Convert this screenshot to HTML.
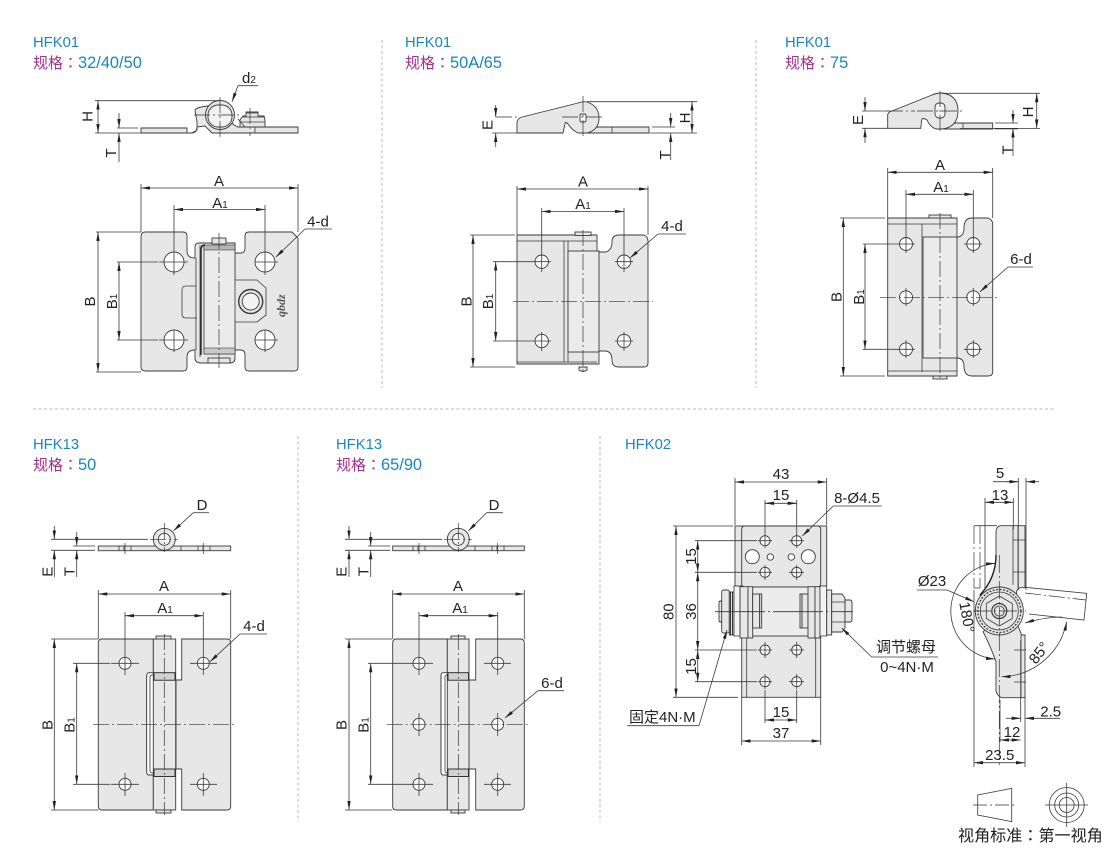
<!DOCTYPE html>
<html><head><meta charset="utf-8"><style>
html,body{margin:0;padding:0;background:#fff}
svg{display:block}
text{font-family:"Liberation Sans","Noto Sans CJK SC",sans-serif;fill:#222;font-size:15px;stroke:none}
.m{text-anchor:middle}
.hb{fill:#1787c0;font-size:14.8px}
.hv{fill:#1787c0;font-size:16.4px}
.hm{fill:#a3308f;font-size:15px}
.cl{font-family:"Noto Sans CJK TC",sans-serif}
.o{fill:#e7e7e8;stroke:#3a3a3a;stroke-width:.9}
.w{fill:#fff;stroke:#3a3a3a;stroke-width:.9}
.l{fill:none;stroke:#3a3a3a;stroke-width:.8}
.k{fill:none;stroke:#222;stroke-width:1.4}
.d{fill:none;stroke:#3a3a3a;stroke-width:.8}
.b{marker-start:url(#a);marker-end:url(#a)}
.e{marker-end:url(#a)}
.c{fill:none;stroke:#333;stroke-width:.7;stroke-dasharray:16 3 2 3}
.s{fill:none;stroke:#bbb;stroke-width:1;stroke-dasharray:3 2.5}
</style></head><body>
<svg xmlns="http://www.w3.org/2000/svg" width="1110" height="848" viewBox="0 0 1110 848">
<defs>
<marker id="a" viewBox="0 0 9 3.4" refX="9" refY="1.7" markerWidth="9" markerHeight="3.4" markerUnits="userSpaceOnUse" orient="auto-start-reverse"><path d="M0 0L9 1.7L0 3.4z" fill="#222"/></marker>
</defs>
<rect width="1110" height="848" fill="#fff"/>

<!-- separators -->
<path class="s" d="M382 40V388M756 40V388M33 409H1056M298 436V822M600 436V822"/>

<!-- headers -->
<text class="hb" x="33" y="47">HFK01</text>
<text class="hm" x="33" y="68">规格<tspan class="cl">：</tspan><tspan class="hv">32/40/50</tspan></text>
<text class="hb" x="405" y="47">HFK01</text>
<text class="hm" x="405" y="68">规格<tspan class="cl">：</tspan><tspan class="hv">50A/65</tspan></text>
<text class="hb" x="785" y="47">HFK01</text>
<text class="hm" x="785" y="68">规格<tspan class="cl">：</tspan><tspan class="hv">75</tspan></text>
<text class="hb" x="33" y="449">HFK13</text>
<text class="hm" x="33" y="470">规格<tspan class="cl">：</tspan><tspan class="hv">50</tspan></text>
<text class="hb" x="336" y="449">HFK13</text>
<text class="hm" x="336" y="470">规格<tspan class="cl">：</tspan><tspan class="hv">65/90</tspan></text>
<text class="hb" x="625" y="449">HFK02</text>

<!-- PANEL 1 side -->
<path class="o" d="M141 128H187V133H141Z"/>
<path class="o" d="M187 133H192Q196 133 197 128V122L195 110Q197 107 208 106H213L234 125L238 127H298V133H212L205 126L197 127V130L192 133Z"/>
<circle class="o" cx="220" cy="115" r="14.500"/>
<rect class="w" x="208" y="105" width="24" height="22" rx="10" style="fill:#f2f2f3"/>
<path class="o" d="M240 127V120L243 116H246V112H258V116H264L265 120V127Z"/>
<path class="l" d="M240 122H265M243 117H264M246 113H258M255 127V133M245 127L238 119"/>
<path class="c" d="M220 97V137M194 115H240M250 108V136"/>
<path class="d" d="M95 100.700H218M95 133H141M117 128H138M117 133H138"/>
<path class="d b" d="M98 100.700V133"/>
<path class="d e" d="M119 113V128"/>
<path class="d e" d="M119 162V133"/>
<text class="m" transform="translate(92.700,116.500) rotate(-90)">H</text>
<text class="m" transform="translate(116,153) rotate(-90)">T</text>
<path class="d" d="M238 85.700H258"/>
<path class="d e" d="M238 85.700L232 101.700"/>
<text x="242" y="83">d<tspan font-size="10">2</tspan></text>

<!-- PANEL 1 top -->
<path class="o" d="M145 232H183Q187 232 187 236V251Q187 258 195 258V247Q195 243 199 243H235V253H241Q245 253 245 248V236Q245 232 249 232H292L298 238V367Q298 371 294 371H249Q245 371 245 367V355Q245 350 241 350H235V358Q235 363 230 363H201Q195 363 195 358V350Q187 350 187 357V367Q187 371 183 371H146Q141 371 141 367V237Q141 232 145 232Z"/>
<path class="l" d="M235 253V280H257L266 288V315L257 322H235V350M196 286H186Q182 286 182 290V314Q182 318 186 318H197M196 258V350M200 245V357"/>
<rect x="204" y="246" width="31" height="108" fill="#ebebec" stroke="#3a3a3a" stroke-width=".8"/>
<rect x="204" y="245" width="31" height="5" fill="#b5b5b6" stroke="#3a3a3a" stroke-width=".6"/>
<rect x="204" y="348" width="31" height="6" fill="#c8c8c9" stroke="#3a3a3a" stroke-width=".6"/>
<path class="k" d="M201 355V250Q201 245 205 245"/>
<rect class="o" x="212" y="238" width="14" height="6"/>
<rect class="o" x="208" y="358" width="22" height="5"/>
<circle class="l" cx="250.700" cy="301.500" r="12" style="stroke-width:1.400"/>
<circle class="w" cx="250.700" cy="301.500" r="8.500" style="fill:#f3f3f3"/>
<text transform="translate(285,317) rotate(-90)" style="font-family:'Liberation Serif',serif;font-weight:bold;font-style:italic;font-size:12px;fill:#555">qbdz</text>
<circle class="w" cx="174" cy="262" r="10"/><circle class="w" cx="265" cy="262" r="10"/><circle class="w" cx="174" cy="340" r="10"/><circle class="w" cx="265" cy="340" r="10"/>
<path class="c" d="M219 233V368"/>
<path class="l" d="M174 250V275M159 262H188M255 262H278M265 250V275M174 330V352M159 340H188M265 330V352M255 340H278"/>
<path class="d" d="M141 184V232M298 184V232M174 205V250M265 205V250M96 232H141M96 372H141M117 262H158M117 340H158"/>
<path class="d b" d="M141 188H298"/>
<path class="d b" d="M174 209.500H265"/>
<path class="d b" d="M98 232V372"/>
<path class="d b" d="M119 262V340"/>
<text class="m" x="219" y="186">A</text>
<text class="m" x="220" y="208">A<tspan font-size="10">1</tspan></text>
<text class="m" transform="translate(95,301.500) rotate(-90)">B</text>
<text class="m" transform="translate(117,301.500) rotate(-90)">B<tspan font-size="10">1</tspan></text>
<path class="d e" d="M305 229L276 257"/><path class="d" d="M305 229H332"/>
<text class="m" x="318" y="226.500">4-d</text>

<!-- PANEL 2 side -->
<path class="o" d="M595 127H649V133H585Z"/>
<path class="o" d="M517 133V122Q518 118 522 117L578 103Q583 101 587 102Q599 106 599 118Q599 130 587 133H578Q572 130 568 124Q565 121 565 124L563 133Z"/>
<path class="l" d="M612 127V133"/>
<rect class="w" x="580" y="114" width="6" height="8" rx="1.500"/>
<path class="c" d="M583 96V138M562 117H605M496 117H517"/>
<path class="d" d="M587 101.700H697M650 133H697M652 127H675M652 133H675M492 133H517"/>
<path class="d e" d="M495.700 105V117"/><path class="d e" d="M495.700 147V133"/>
<path class="d b" d="M692 101.700V133"/>
<path class="d e" d="M670.700 113V127"/><path class="d e" d="M670.700 160V133"/>
<text class="m" transform="translate(492.700,125) rotate(-90)">E</text>
<text class="m" transform="translate(690,118) rotate(-90)">H</text>
<text class="m" transform="translate(670,155) rotate(-90)">T</text>

<!-- PANEL 2 top -->
<path class="o" d="M517 235H597V251H599V252H606Q612 250 612 242Q612 235 619 235H644Q648 237 648 241V363Q648 367 644 367H619Q612 367 612 360Q612 352 606 351H599V364H517Z"/>
<path class="l" d="M517 241H597M517 362H597M564 241V362M568 241V362"/>
<rect x="568" y="251" width="31" height="101" fill="#ebebec" stroke="#3a3a3a" stroke-width=".9"/>
<rect class="o" x="575" y="232" width="16" height="3.500"/>
<path class="o" d="M579 367H587V370Q583 373 579 370Z"/>
<circle class="w" cx="541.700" cy="261.700" r="6.700"/><circle class="w" cx="624" cy="261.700" r="6.700"/><circle class="w" cx="541.700" cy="341" r="6.700"/><circle class="w" cx="624" cy="341" r="6.700"/>
<path class="l" d="M541.700 252V272M533 261.700H551M624 252V272M615 261.700H633M541.700 332V351M533 341H551M624 332V351M615 341H633"/>
<path class="c" d="M513 301.700H653M583 230V372"/>
<path class="d" d="M517 186V235M648 186V235M541.700 208V252M624 208V252M470 235H515M470 367H515M493 261.700H533M493 341H533"/>
<path class="d b" d="M517 189H648"/>
<path class="d b" d="M541.700 211.500H624"/>
<path class="d b" d="M473 235V367"/>
<path class="d b" d="M495.700 261.700V341"/>
<text class="m" x="583" y="186.500">A</text>
<text class="m" x="583" y="209">A<tspan font-size="10">1</tspan></text>
<text class="m" transform="translate(471.700,301.500) rotate(-90)">B</text>
<text class="m" transform="translate(493,301.500) rotate(-90)">B<tspan font-size="10">1</tspan></text>
<path class="d e" d="M658 234L630 258"/><path class="d" d="M658 234H686"/>
<text class="m" x="672" y="231">4-d</text>

<!-- PANEL 3 side -->
<path class="o" d="M955 123H992.700V129H945Z"/>
<path class="o" d="M887.700 128.300V115Q888 112 892 111L932 95Q936 93 942 93Q958 95 958 111Q958 127 942 129H936Q930 127 927 120Q922 117 921.700 120L920.700 128.300Z"/>
<path class="l" d="M963 123V129"/>
<rect class="w" x="935" y="103" width="10" height="15" rx="4" style="fill:#f3f3f3"/>
<path class="c" d="M940 91V132M917 111H962M887 111H915"/>
<path class="d" d="M942 93.300H1040M960 128.500H1040M995 123H1018M995 128.500H1018M862 128.300H888M862 111H888"/>
<path class="k" d="M995 128.800H1018" style="stroke-width:1"/>
<path class="d e" d="M865 97V111"/><path class="d e" d="M865 143V128.300"/>
<path class="d b" d="M1036.700 93.300V128.500"/>
<path class="d e" d="M1013 110V123"/><path class="d e" d="M1013 156V128.500"/>
<text class="m" transform="translate(863,120) rotate(-90)">E</text>
<text class="m" transform="translate(1033,112) rotate(-90)">H</text>
<text class="m" transform="translate(1012.700,150) rotate(-90)">T</text>

<!-- PANEL 3 top -->
<path class="o" d="M887.700 218H957V237H958Q964 236 964 228Q964 218 972 218H988Q992.700 220 992.700 224V372Q992.700 376 988 376H972Q964 376 964 366Q964 359 958 358H957V376H887.700Z"/>
<path class="l" d="M887.700 224H957M887.700 371H957M922 224V372"/>
<path class="k" d="M922 226V364" style="stroke:#888"/>
<rect x="923" y="237" width="34" height="121" fill="#ebebec" stroke="#3a3a3a" stroke-width=".9"/>
<rect class="o" x="929" y="215" width="22" height="3"/>
<rect class="o" x="933" y="376" width="14" height="3"/>
<circle class="w" cx="906" cy="244" r="6.500"/><circle class="w" cx="973.300" cy="244" r="6.500"/><circle class="w" cx="906" cy="297.300" r="6.500"/><circle class="w" cx="973.300" cy="297.300" r="6.500"/><circle class="w" cx="906" cy="349.300" r="6.500"/><circle class="w" cx="973.300" cy="349.300" r="6.500"/>
<path class="l" d="M906 235V253M897 244H915M973.300 235V253M964 244H982M906 340V358M897 349.300H915M973.300 340V358M964 349.300H982M906 288V306M973.300 288V306"/>
<path class="c" d="M880 297.300H1000M940 213V380"/>
<path class="d" d="M887.700 168V218M992.700 168V218M906 190V235M973.300 190V235M840 218H885M840 376H885M863 244H897M863 349.300H897"/>
<path class="d b" d="M887.700 172.300H992.700"/>
<path class="d b" d="M906 194.300H973.300"/>
<path class="d b" d="M843.300 218V376"/>
<path class="d b" d="M865 244V349.300"/>
<text class="m" x="940" y="170">A</text>
<text class="m" x="941" y="192">A<tspan font-size="10">1</tspan></text>
<text class="m" transform="translate(841.700,297) rotate(-90)">B</text>
<text class="m" transform="translate(864,297) rotate(-90)">B<tspan font-size="10">1</tspan></text>
<path class="d e" d="M1008 267L980 291.700"/><path class="d" d="M1008 267H1033"/>
<text class="m" x="1021" y="264">6-d</text>

<!-- PANEL 4 side -->
<rect class="o" x="98.300" y="546" width="132.400" height="4.700"/>
<circle class="o" cx="164.300" cy="539.300" r="11"/>
<circle class="w" cx="164.300" cy="539.300" r="6" style="fill:#f4f4f4"/>
<path class="l" d="M119 546V551M124 546V551M131 546V551M198 546V551M203 546V551M210 546V551M181 546V551"/>
<path class="c" d="M164.300 523V552M150 539.300H178M125 543V554M203.300 543V554"/>
<path class="d" d="M51 539.300H148M51 550.300H95M73 546H95M73 550.300H95"/>
<path class="d e" d="M54.300 526V539.300"/><path class="d e" d="M54.300 577V550.300"/>
<path class="d e" d="M76.700 532V546"/><path class="d e" d="M76.700 577V550.300"/>
<text class="m" transform="translate(52.700,571.700) rotate(-90)">E</text>
<text class="m" transform="translate(74.300,571.700) rotate(-90)">T</text>
<path class="d e" d="M193.300 512.700L173.300 531"/><path class="d" d="M193.300 512.700H209"/>
<text class="m" x="202" y="510">D</text>

<!-- PANEL 4 top -->
<path class="o" d="M102 639H153.300V672.700H149Q146.700 672.700 146.700 676V772Q146.700 775 149 775H153.300V810H102Q98.300 810 98.300 806V643Q98.300 639 102 639Z"/>
<path d="M147 678Q147 675 150 675H153V773H150Q147 773 147 770Z" fill="#fff" stroke="none"/>
<path class="l" d="M146.700 676V772M150 677V771M150 677Q150 675 153 675M150 771Q150 773 153 773"/>
<path class="o" d="M181.700 639H227Q230.700 639 230.700 643V806Q230.700 810 227 810H181.700V769H176V680H181.700Z"/>
<rect class="o" x="153.300" y="639" width="22.400" height="171"/>
<rect class="o" x="156" y="636" width="15" height="3"/>
<rect class="o" x="156" y="810" width="15" height="3"/>
<rect x="154" y="672.700" width="21" height="7.500" fill="#d2d2d2" stroke="#222" stroke-width=".9"/>
<rect x="154" y="769" width="21" height="7.500" fill="#d2d2d2" stroke="#222" stroke-width=".9"/>
<circle class="w" cx="125" cy="663.300" r="6"/><circle class="w" cx="203.300" cy="663.300" r="6"/><circle class="w" cx="125" cy="784.300" r="6"/><circle class="w" cx="203.300" cy="784.300" r="6"/>
<path class="l" d="M125 652V675M111 663.300H139M203.300 652V675M190 663.300H217M125 773V796M111 784.300H139M203.300 773V796M190 784.300H217"/>
<path class="c" d="M93 724.300H236M164.300 634V815"/>
<path class="d" d="M98.300 590V639M230.700 590V639M125 612V652M203.300 612V652M51 639H98M51 810H98M73 663.300H110M73 784.300H110"/>
<path class="d b" d="M98.300 594H230.700"/>
<path class="d b" d="M125 615.700H203.300"/>
<path class="d b" d="M54.300 639V810"/>
<path class="d b" d="M76.700 663.300V784.300"/>
<text class="m" x="164" y="591">A</text>
<text class="m" x="165" y="613">A<tspan font-size="10">1</tspan></text>
<text class="m" transform="translate(52.700,725) rotate(-90)">B</text>
<text class="m" transform="translate(74.300,725) rotate(-90)">B<tspan font-size="10">1</tspan></text>
<path class="d e" d="M240 634L210 661.700"/><path class="d" d="M240 634H267"/>
<text class="m" x="254" y="631">4-d</text>

<!-- PANEL 5 side -->
<rect class="o" x="392.700" y="546" width="131.600" height="4.700"/>
<circle class="o" cx="458.300" cy="539.300" r="11"/>
<circle class="w" cx="458.300" cy="539.300" r="6" style="fill:#f4f4f4"/>
<path class="l" d="M413 546V551M418 546V551M425 546V551M475 546V551M492 546V551M497 546V551M504 546V551"/>
<path class="c" d="M458.300 523V552M444 539.300H472M419 543V554M497.700 543V554"/>
<path class="d" d="M345 539.300H442M345 550.300H390M368 546H390M368 550.300H390"/>
<path class="d e" d="M349 526V539.300"/><path class="d e" d="M349 577V550.300"/>
<path class="d e" d="M370.700 532V546"/><path class="d e" d="M370.700 577V550.300"/>
<text class="m" transform="translate(346.700,571.700) rotate(-90)">E</text>
<text class="m" transform="translate(368.300,571.700) rotate(-90)">T</text>
<path class="d e" d="M486.700 512.700L468.300 531"/><path class="d" d="M486.700 512.700H503"/>
<text class="m" x="494" y="510">D</text>

<!-- PANEL 5 top -->
<path class="o" d="M396 639H447.300V672.700H443Q441 672.700 441 676V772Q441 775 443 775H447.300V810H396Q392.700 810 392.700 806V643Q392.700 639 396 639Z"/>
<path d="M441.500 678Q441.500 675 444 675H447V773H444Q441.500 773 441.500 770Z" fill="#fff" stroke="none"/>
<path class="l" d="M441 676V772M445 677V771M445 677Q445 675 447 675M445 771Q445 773 447 773"/>
<path class="o" d="M475.700 639H520.600Q524.300 639 524.300 643V806Q524.300 810 520.600 810H475.700V769H469V680H475.700Z"/>
<rect class="o" x="447.300" y="639" width="21.700" height="171"/>
<rect class="o" x="451" y="636" width="14" height="3"/>
<rect class="o" x="451" y="810" width="14" height="3"/>
<rect x="448" y="672.700" width="20.500" height="7.500" fill="#d2d2d2" stroke="#222" stroke-width=".9"/>
<rect x="448" y="769" width="20.500" height="7.500" fill="#d2d2d2" stroke="#222" stroke-width=".9"/>
<circle class="w" cx="419" cy="663.300" r="6"/><circle class="w" cx="497.700" cy="663.300" r="6"/><circle class="w" cx="419" cy="724.300" r="6"/><circle class="w" cx="497.700" cy="724.300" r="6"/><circle class="w" cx="419" cy="784.300" r="6"/><circle class="w" cx="497.700" cy="784.300" r="6"/>
<path class="l" d="M419 652V675M405 663.300H433M497.700 652V675M484 663.300H511M419 713V736M497.700 713V736M419 773V796M405 784.300H433M497.700 773V796M484 784.300H511"/>
<path class="c" d="M386.700 724.300H530M458.300 634V815"/>
<path class="d" d="M392.700 590V639M524.300 590V639M419 612V652M497.700 612V652M345 639H392M345 810H392M368 663.300H405M368 784.300H405"/>
<path class="d b" d="M392.700 594H524.300"/>
<path class="d b" d="M419 615.700H497.700"/>
<path class="d b" d="M349 639V810"/>
<path class="d b" d="M370.700 663.300V784.300"/>
<text class="m" x="458" y="591">A</text>
<text class="m" x="460" y="613">A<tspan font-size="10">1</tspan></text>
<text class="m" transform="translate(346.700,725) rotate(-90)">B</text>
<text class="m" transform="translate(368.300,725) rotate(-90)">B<tspan font-size="10">1</tspan></text>
<path class="d e" d="M538 690.700L505 718"/><path class="d" d="M538 690.700H564"/>
<text class="m" x="552" y="688">6-d</text>

<!-- PANEL 6 -->
<rect class="o" x="735" y="526" width="91.700" height="60"/>
<rect x="741.700" y="526" width="79" height="61" fill="#e7e7e8" stroke="#3a3a3a" stroke-width=".9" rx="3"/>
<rect class="o" x="741.700" y="635" width="79" height="62.300"/>
<path class="l" d="M746.700 635V697M815.700 635V697"/>
<rect x="746" y="587" width="71" height="49" fill="#ececed" stroke="#3a3a3a" stroke-width=".9"/>
<!-- left hardware -->
<rect class="o" x="719" y="601" width="3" height="21" rx="1.500"/>
<rect class="o" x="721.700" y="590" width="7.600" height="43" rx="2"/>
<rect class="o" x="729.300" y="592" width="4.700" height="43"/>
<path class="k" d="M730.500 592V635M732.500 592V635" style="stroke-width:.9"/>
<rect x="734" y="586" width="6" height="50" fill="#f4f4f4" stroke="#3a3a3a" stroke-width=".8"/>
<rect class="o" x="740" y="586.700" width="8" height="51.300"/>
<rect class="o" x="748" y="586.700" width="4.700" height="51.300"/>
<rect class="o" x="752.700" y="594" width="7" height="34"/>
<rect class="o" x="759.700" y="594" width="2" height="34"/>
<!-- right hardware -->
<rect class="o" x="800" y="594" width="2" height="34"/>
<rect class="o" x="802" y="594" width="6" height="34"/>
<rect class="o" x="808" y="586.700" width="7" height="51.300"/>
<rect class="o" x="815" y="586.700" width="5" height="51.300"/>
<rect x="820" y="586" width="6.700" height="50" fill="#f4f4f4" stroke="#3a3a3a" stroke-width=".8"/>
<rect class="o" x="826.700" y="590" width="5" height="45"/>
<path class="o" d="M831.700 594H842L845 598V628L842 632H831.700Z"/>
<path class="o" d="M845 600H850Q852 600 852 603V619Q852 622 850 622H845Z"/>
<path class="l" d="M832 602H845M832 622H845"/>
<path class="c" d="M715 611.700H853" style="stroke-dasharray:50 3 2 3;stroke-width:.9"/>
<!-- holes -->
<circle class="w" cx="765" cy="540.700" r="5"/><circle class="w" cx="796.700" cy="540.700" r="5"/><circle class="w" cx="765" cy="572.300" r="5"/><circle class="w" cx="796.700" cy="572.300" r="5"/>
<circle class="w" cx="765" cy="650" r="5"/><circle class="w" cx="796.700" cy="650" r="5"/><circle class="w" cx="765" cy="681.700" r="5"/><circle class="w" cx="796.700" cy="681.700" r="5"/>
<circle class="w" cx="752.300" cy="556.700" r="7"/><circle class="w" cx="808.300" cy="556.700" r="7"/><circle class="w" cx="770.300" cy="557" r="3.200"/><circle class="w" cx="791.300" cy="557" r="3.200"/>
<path class="l" d="M765 533V548M758 540.700H772M796.700 533V548M789 540.700H804M765 565V580M758 572.300H772M796.700 565V580M789 572.300H804M765 642V658M758 650H772M796.700 642V658M789 650H804M765 674V689M758 681.700H772M796.700 674V689M789 681.700H804"/>
<!-- dims -->
<path class="d" d="M735 478V525M826.700 478V525M765 500V533M796.700 500V533M673 526H733M673 697.300H738M695 540.700H757M695 572.300H757M695 650H757M695 681.700H757M765 690V723M796.700 690V723M741.700 697V745M820.700 697V745"/>
<path class="d b" d="M735 482H826.700"/>
<path class="d" d="M765 503.300H796.700"/><path class="d e" d="M772 503.300H765"/><path class="d e" d="M790 503.300H796.700"/>
<path class="d b" d="M676 526V697.300"/>
<path class="d b" d="M697.700 540.700V572.300"/>
<path class="d b" d="M697.700 572.300V650"/>
<path class="d b" d="M697.700 650V681.700"/>
<path class="d" d="M765 720H796.700"/><path class="d e" d="M772 720H765"/><path class="d e" d="M790 720H796.700"/>
<path class="d b" d="M741.700 741H820.700"/>
<text class="m" x="781" y="479">43</text>
<text class="m" x="781" y="500">15</text>
<text class="m" x="781" y="717">15</text>
<text class="m" x="781" y="738">37</text>
<text class="m" transform="translate(673.300,611.700) rotate(-90)">80</text>
<text class="m" transform="translate(696,556.500) rotate(-90)">15</text>
<text class="m" transform="translate(696,611.500) rotate(-90)">36</text>
<text class="m" transform="translate(696,666.500) rotate(-90)">15</text>
<path class="d e" d="M833.300 506L802.300 536"/><path class="d" d="M833.300 506H881.700"/>
<text class="m" x="857" y="503">8-Ø4.5</text>
<path class="d e" d="M699 725.700L727 630"/><path class="d" d="M627 725.700H699"/>
<text x="629" y="722">固定4N·M</text>
<path class="d e" d="M871.700 657L841.700 628"/><path class="d" d="M871.700 657H938"/>
<text class="m" x="906" y="652">调节螺母</text>
<text class="m" x="907" y="672">0~4N·M</text>

<!-- PANEL 7 -->
<path class="c" d="M974 526V588M980 526V588" style="stroke-dasharray:18 3 2 3"/>
<path class="d" d="M974 525.700H997M974 588H980"/>
<path class="l" d="M1025 587.300L1086.700 593.300L1084 620L1029 614"/>
<path class="c" d="M1025 593L1086 600"/>
<path class="o" d="M1000 525.700H1025V587.700H1020Q1015 590 1017 596L1016 600L985 605L980 595Q996 578 996 555V532Q996 527 1000 525.700Z"/>
<path class="o" d="M1018 626L1021.700 635H1025V697.700H1001.700Q996 695 996 690V661.700Q990 645 983 631.700L990 626Z"/>
<path class="k" d="M980 595Q996 578 996 555"/>
<path class="l" d="M1018 526V588M1021 635V697M1013 526V585"/>
<path class="l" d="M1013 540H1026M1013 572H1026M1014 650H1026M1014 682H1026"/>
<circle class="o" cx="999.300" cy="611" r="24"/>
<circle class="l" cx="999.300" cy="611" r="21.500" style="stroke-dasharray:2 1.500;stroke-width:1.300"/>
<circle class="l" cx="999.300" cy="611" r="19"/>
<path class="l" d="M999.300 596L1012.300 603.500V618.500L999.300 626L986.300 618.500V603.500Z"/>
<circle class="l" cx="999.300" cy="611" r="7.500" style="stroke-width:1.200"/>
<circle class="l" cx="999.300" cy="611" r="5"/>
<path class="c" d="M999.300 555V765M973 611H1026" style="stroke-dasharray:18 3 2 3"/>
<path class="d" d="M1018.300 478V590M1026 478V590M985 498V590M1013.300 498V530M1020.700 640V722M1025 695V767M974 590V767M1000 700V742"/>
<path class="d" d="M993 481.700H1018.300"/><path class="d e" d="M1006 481.700H1018.300"/><path class="d e" d="M1039 481.700H1026"/>
<path class="d b" d="M985 502.300H1013.300"/>
<path class="d e" d="M1006 718.300H1020.700"/><path class="d e" d="M1060 718.300H1025"/>
<path class="d b" d="M1000 740H1020.700"/>
<path class="d b" d="M974 762.700H1025"/>
<text class="m" x="1000" y="478">5</text>
<text class="m" x="1000" y="500">13</text>
<text class="m" x="1050.700" y="716.500">2.5</text>
<text class="m" x="1012" y="737">12</text>
<text class="m" x="999.700" y="760">23.5</text>
<text class="m" x="932" y="586">Ø23</text>
<path class="d e" d="M947 590L974 601.700"/><path class="d" d="M917 590H947"/>
<path class="d b" d="M995 563.300A48 48 0 0 0 995 659"/>
<text class="m" transform="translate(962,618) rotate(80)">180°</text>
<path class="d b" d="M1066.700 621.700A68 68 0 0 1 1001.700 676.700"/>
<text class="m" transform="translate(1043,656) rotate(-52)">85°</text>
<path class="d e" d="M1062 617Q1045 617 1025 623"/>

<!-- projection symbol -->
<path class="l" d="M977.700 795L1011.700 788.300V821.700L977.700 815Z"/>
<path class="c" d="M973 805H1016.700" style="stroke-dasharray:14 3 2 3"/>
<circle class="l" cx="1066.700" cy="805" r="17.500"/>
<circle class="l" cx="1066.700" cy="805" r="12"/>
<circle class="l" cx="1066.700" cy="805" r="7.500"/>
<path class="l" d="M1045 805H1088M1066.700 783V827"/>
<text x="958" y="841" style="font-size:16.100px">视角标准<tspan class="cl" style="font-size:16.100px">：</tspan>第一视角</text>
</svg>
</body></html>
